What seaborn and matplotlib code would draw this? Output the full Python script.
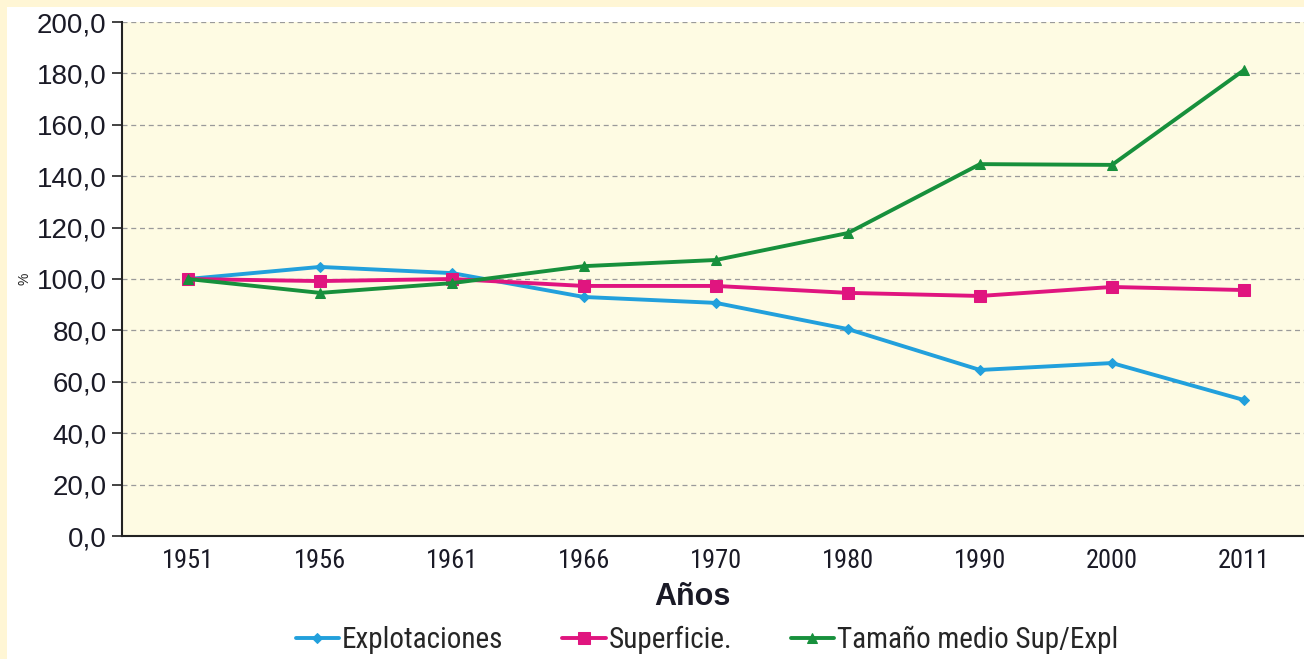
# encoding: utf-8
import matplotlib
matplotlib.use("Agg")
import matplotlib.pyplot as plt
from matplotlib import font_manager
from matplotlib.patches import Rectangle
from matplotlib.ticker import FuncFormatter, FixedLocator
import seaborn as sns
import pandas as pd

# Data (index 1951 = 100)
years = ["1951", "1956", "1961", "1966", "1970", "1980", "1990", "2000", "2011"]
explotaciones = [100.0, 104.7, 102.3, 93.0, 90.7, 80.5, 64.6, 67.3, 52.9]
superficie = [100.0, 99.2, 100.0, 97.3, 97.3, 94.6, 93.4, 96.9, 95.7]
tamano = [100.0, 94.6, 98.4, 105.0, 107.4, 117.9, 144.7, 144.4, 181.3]

series_names = ["Explotaciones", "Superficie.", "Tamaño medio Sup/Expl"]
colors = ["#22a0dc", "#e0157f", "#17903c"]
markers = ["D", "s", "^"]
msizes = [5, 8, 7]

sns.set_style("white")
plt.rcParams["font.family"] = ["Liberation Sans", "DejaVu Sans"]

# condensed face if one is around, otherwise a regular sans
installed = {f.name for f in font_manager.fontManager.ttflist}
narrow = [f for f in ["Liberation Sans Narrow", "Roboto Condensed", "Open Sans Condensed",
                      "DejaVu Sans Condensed"] if f in installed] + ["Liberation Sans", "DejaVu Sans"]
is_narrow = narrow[0] != "Liberation Sans"

fig = plt.figure(figsize=(13.04, 6.59), dpi=100)
fig.patch.set_facecolor("white")
# light yellow frame on left / top edges
fig.patches.append(Rectangle((0, 0), 7 / 1304, 1, transform=fig.transFigure,
                             facecolor="#fff6d5", edgecolor="none"))
fig.patches.append(Rectangle((0, 1 - 7 / 659), 1, 7 / 659, transform=fig.transFigure,
                             facecolor="#fff6d5", edgecolor="none"))

# axes extend a little past the right edge (as in the source image)
ax = fig.add_axes([122 / 1304, 1 - 536 / 659, 1188 / 1304, 514 / 659])
ax.set_facecolor("#fefbe3")

pos = list(range(len(years)))
for vals, name, c, m, ms in zip([explotaciones, superficie, tamano],
                                series_names, colors, markers, msizes):
    sns.lineplot(x=pos, y=vals, ax=ax, color=c, marker=m, markersize=ms,
                 markeredgecolor=c, linewidth=2.8, label=name)

ax.set_xlim(-0.5, len(years) - 0.5)
ax.set_ylim(0, 200)
ax.set_yticks(range(0, 201, 20))
ax.yaxis.set_major_formatter(FuncFormatter(lambda v, p: f"{v:.1f}".replace(".", ",")))
ax.grid(axis="y", color="#9a9a9a", linestyle=(0, (4, 3)), linewidth=0.9)
ax.set_axisbelow(True)

ax.set_xticks(pos)
ax.set_xticklabels(years, family=narrow, fontsize=19 if is_narrow else 17)
ax.xaxis.set_minor_locator(FixedLocator([p - 0.5 for p in pos] + [len(years) - 0.5]))
ax.tick_params(axis="x", which="major", length=0, pad=9, colors="#1a1a26")
ax.tick_params(axis="x", which="minor", length=6, width=1.2, color="#222222", direction="out")
ax.tick_params(axis="y", length=7, width=1.2, color="#222222", direction="out",
               labelsize=20, pad=4, labelcolor="#1a1a26")
ax.tick_params(axis="both", bottom=True, left=True)

for s in ["top", "right"]:
    ax.spines[s].set_visible(False)
for s in ["left", "bottom"]:
    ax.spines[s].set_color("#222222")
    ax.spines[s].set_linewidth(1.5)

ax.set_xlabel("Años", fontsize=22, fontweight="bold", labelpad=6, color="#1a1a26")
ax.xaxis.set_label_coords((692 - 122) / 1188, -46 / 514)
ax.set_ylabel("%", fontsize=10, labelpad=4, color="#222222")
ax.yaxis.set_label_coords(-91 / 1188, 0.5)

ax.legend(loc="center", bbox_to_anchor=((707 - 122) / 1188, -104 / 514),
          ncol=3, frameon=False,
          prop={"family": narrow, "size": 21 if is_narrow else 18},
          handlelength=1.5, handletextpad=0.1, columnspacing=2.0)

fig.savefig("out.png", dpi=100, facecolor=fig.get_facecolor())
